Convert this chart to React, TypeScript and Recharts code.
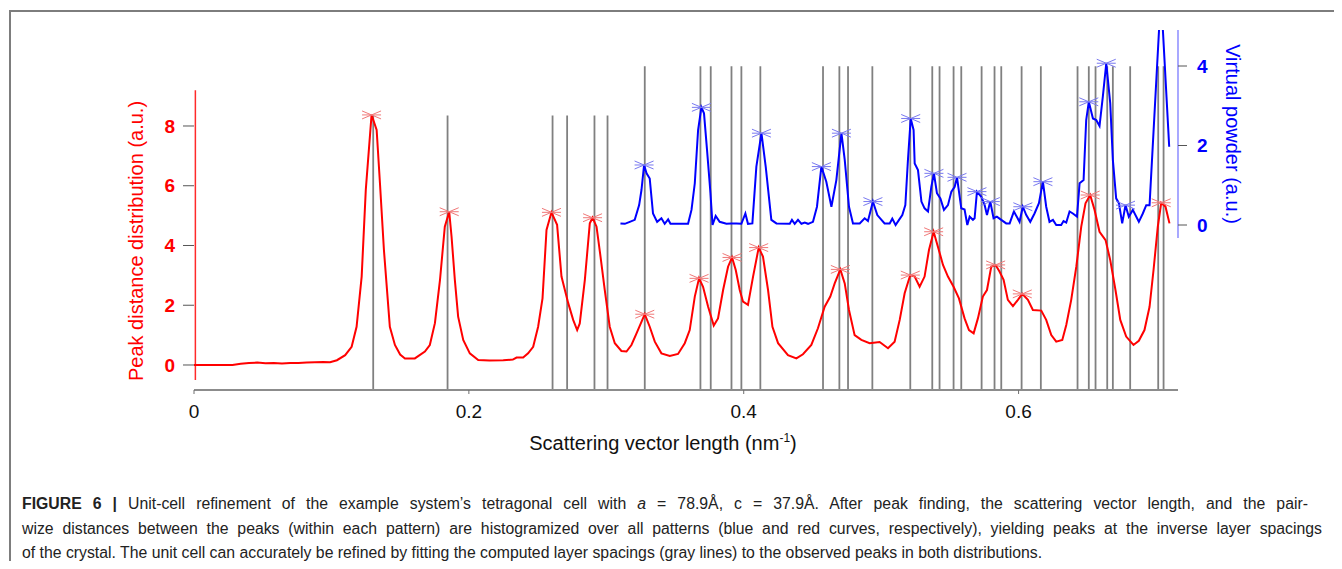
import React from 'react';
import { ComposedChart, Line, XAxis, YAxis, ReferenceLine } from 'recharts';

// axis ticks
const xTicks = [0, 0.2, 0.4, 0.6];
const leftTicks = [0, 2, 4, 6, 8];
const rightTicks = [0, 2, 4];

// red curve: pair-wise peak distance histogram [q, value]
const peakDistance: [number, number][] = [
  [0.0, 0.0], [0.028, 0.0], [0.034, 0.04], [0.04, 0.07], [0.046, 0.08], [0.052, 0.06],
  [0.058, 0.07], [0.064, 0.05], [0.07, 0.07], [0.076, 0.07], [0.082, 0.08], [0.088, 0.09],
  [0.094, 0.1], [0.099, 0.09], [0.104, 0.16], [0.11, 0.33], [0.1147, 0.61], [0.1183, 1.28],
  [0.122, 2.96], [0.125, 5.86], [0.1292, 8.37], [0.1329, 7.87], [0.1353, 6.09], [0.1382, 3.85],
  [0.1425, 1.28], [0.1462, 0.67], [0.15, 0.35], [0.1535, 0.22], [0.1607, 0.22], [0.168, 0.45],
  [0.1716, 0.67], [0.1753, 1.4], [0.179, 2.85], [0.1825, 4.63], [0.1857, 5.13], [0.1874, 4.3],
  [0.1898, 2.85], [0.1922, 1.62], [0.1959, 0.84], [0.2007, 0.39], [0.2068, 0.17], [0.215, 0.15],
  [0.225, 0.16], [0.232, 0.18], [0.2347, 0.25], [0.2395, 0.25], [0.2431, 0.39], [0.2468, 0.61],
  [0.2504, 1.28], [0.2536, 2.23], [0.2565, 4.52], [0.2601, 5.11], [0.2642, 4.69], [0.2674, 2.96],
  [0.2723, 2.07], [0.2759, 1.51], [0.2788, 1.17], [0.2807, 1.39], [0.2844, 2.85], [0.288, 4.74],
  [0.29, 4.93], [0.2929, 4.63], [0.2958, 3.63], [0.2989, 2.51], [0.3025, 1.28], [0.3062, 0.73],
  [0.311, 0.47], [0.3147, 0.45], [0.3183, 0.67], [0.322, 1.06], [0.328, 1.7], [0.3316, 1.28],
  [0.3353, 0.78], [0.3401, 0.39], [0.3462, 0.3], [0.3522, 0.37], [0.3571, 0.73], [0.3607, 1.17],
  [0.3644, 2.29], [0.3675, 2.9], [0.3704, 2.62], [0.3741, 1.95], [0.3782, 1.32], [0.3813, 1.56],
  [0.385, 2.51], [0.3886, 3.29], [0.3915, 3.6], [0.3942, 3.18], [0.3971, 2.51], [0.3995, 2.12],
  [0.4031, 2.01], [0.4068, 2.96], [0.4109, 3.93], [0.414, 3.63], [0.4177, 2.51], [0.4209, 1.28],
  [0.425, 0.73], [0.4322, 0.33], [0.4383, 0.22], [0.4431, 0.36], [0.4492, 0.67], [0.454, 1.23],
  [0.4589, 1.95], [0.463, 2.29], [0.4662, 2.73], [0.4703, 3.2], [0.4735, 2.73], [0.4766, 1.84],
  [0.4807, 1.0], [0.4856, 0.84], [0.4916, 0.73], [0.4989, 0.77], [0.505, 0.56], [0.5098, 0.78],
  [0.5135, 1.51], [0.5171, 2.4], [0.5212, 3.01], [0.5244, 2.96], [0.528, 2.62], [0.5316, 2.96],
  [0.5348, 3.85], [0.5382, 4.46], [0.5413, 3.96], [0.545, 3.35], [0.5486, 2.96], [0.5527, 2.62],
  [0.5566, 2.23], [0.5607, 1.56], [0.5639, 1.17], [0.5673, 1.06], [0.5704, 1.56], [0.574, 2.29],
  [0.577, 2.51], [0.5801, 3.29], [0.5833, 3.35], [0.5862, 3.12], [0.5891, 2.85], [0.5922, 2.18],
  [0.5959, 1.97], [0.5995, 2.18], [0.6027, 2.38], [0.6068, 2.18], [0.6104, 1.84], [0.6165, 1.82],
  [0.6201, 1.51], [0.6238, 1.0], [0.6274, 0.78], [0.6318, 0.84], [0.6347, 1.34], [0.6383, 2.18],
  [0.642, 3.29], [0.6456, 4.63], [0.6487, 5.41], [0.6521, 5.69], [0.6553, 5.19], [0.6589, 4.46],
  [0.6633, 4.18], [0.6667, 3.51], [0.6705, 2.51], [0.674, 1.51], [0.6783, 0.95], [0.6836, 0.67],
  [0.6875, 0.81], [0.6916, 1.17], [0.6953, 1.95], [0.6982, 3.18], [0.7013, 4.63], [0.7038, 5.43],
  [0.7069, 5.3], [0.7098, 4.74],
];

// blue curve: virtual powder pattern [q, value]
const virtualPowder: [number, number][] = [
  [0.3103, 0.04], [0.3135, 0.03], [0.3171, 0.08], [0.3207, 0.13], [0.3239, 0.5], [0.3256, 0.88],
  [0.3275, 1.51], [0.3293, 1.3], [0.3316, 1.17], [0.334, 0.29], [0.337, 0.08], [0.3401, 0.17],
  [0.3425, 0.03], [0.345, 0.14], [0.3467, 0.03], [0.3595, 0.03], [0.362, 0.38], [0.3644, 1.05],
  [0.3668, 2.39], [0.3692, 2.96], [0.3711, 2.81], [0.3733, 1.89], [0.3758, 0.8], [0.3773, 0.0],
  [0.3796, 0.23], [0.3825, 0.08], [0.3874, 0.03], [0.391, 0.04], [0.3947, 0.04], [0.3983, 0.03],
  [0.4012, 0.29], [0.4031, 0.03], [0.4063, 0.04], [0.4092, 1.47], [0.4129, 2.31], [0.416, 1.47],
  [0.4201, 0.13], [0.4238, 0.04], [0.4335, 0.03], [0.4351, 0.13], [0.4371, 0.03], [0.4395, 0.13],
  [0.442, 0.03], [0.4444, 0.06], [0.4468, 0.03], [0.4504, 0.08], [0.4533, 0.46], [0.4565, 1.47],
  [0.4601, 1.09], [0.4638, 0.46], [0.4674, 1.13], [0.4711, 2.31], [0.4735, 1.64], [0.4766, 0.46],
  [0.4795, 0.04], [0.4844, 0.04], [0.488, 0.17], [0.4904, 0.1], [0.494, 0.59], [0.4972, 0.25],
  [0.5025, 0.04], [0.5062, 0.04], [0.5081, 0.16], [0.5105, 0.0], [0.513, 0.13], [0.5154, 0.25],
  [0.5176, 0.5], [0.5195, 1.64], [0.5215, 2.68], [0.5236, 2.39], [0.5244, 1.55], [0.5268, 1.38],
  [0.5293, 0.59], [0.5316, 0.42], [0.5341, 0.34], [0.5365, 0.96], [0.5384, 1.3], [0.5406, 0.8],
  [0.5431, 0.67], [0.5457, 0.38], [0.5486, 0.5], [0.5511, 0.84], [0.5535, 0.96], [0.5552, 1.2],
  [0.5583, 0.42], [0.5607, 0.39], [0.5627, 0.0], [0.5644, 0.21], [0.5668, 0.13], [0.568, 0.17],
  [0.5697, 0.84], [0.5729, 0.71], [0.5753, 0.5], [0.577, 0.25], [0.5794, 0.59], [0.5818, 0.17],
  [0.5842, 0.21], [0.5874, 0.13], [0.591, 0.04], [0.5935, 0.04], [0.5966, 0.34], [0.6007, 0.08],
  [0.6031, 0.46], [0.6056, 0.25], [0.6085, 0.08], [0.6116, 0.29], [0.6148, 0.55], [0.6177, 1.09],
  [0.6201, 0.46], [0.6225, 0.08], [0.625, 0.13], [0.6274, 0.0], [0.631, 0.0], [0.6327, 0.1],
  [0.6347, 0.06], [0.6371, 0.34], [0.6395, 0.29], [0.6425, 0.21], [0.6444, 1.05], [0.6473, 1.13],
  [0.6492, 2.64], [0.6511, 3.1], [0.6541, 2.68], [0.6565, 2.64], [0.6589, 2.49], [0.6613, 3.23],
  [0.6638, 4.07], [0.6667, 3.06], [0.6686, 1.64], [0.671, 0.67], [0.673, 0.55], [0.6754, 0.04],
  [0.6778, 0.5], [0.6802, 0.21], [0.6831, 0.38], [0.6875, 0.08], [0.6904, 0.29], [0.6929, 0.5],
  [0.6953, 0.5], [0.7036, 5.8], [0.7096, 1.97],
];

// found peaks (star markers)
const peakDistanceMarks: [number, number][] = [
  [0.1292, 8.37], [0.1857, 5.13], [0.2601, 5.11], [0.29, 4.93], [0.328, 1.7], [0.3675, 2.9],
  [0.3915, 3.6], [0.4109, 3.93], [0.4703, 3.2], [0.5212, 3.01], [0.5382, 4.46], [0.5833, 3.35],
  [0.6027, 2.38], [0.6521, 5.69], [0.7038, 5.43],
];
const virtualPowderMarks: [number, number][] = [
  [0.3275, 1.51], [0.3692, 2.96], [0.4129, 2.31], [0.4565, 1.47], [0.4711, 2.31], [0.494, 0.59],
  [0.5215, 2.68], [0.5384, 1.3], [0.5552, 1.2], [0.5697, 0.84], [0.5794, 0.59], [0.6031, 0.46],
  [0.6177, 1.09], [0.6511, 3.1], [0.6638, 4.07], [0.6778, 0.5],
];

// computed layer spacings (gray lines), short ones and tall ones
const spacingsShort = [0.1304, 0.1845, 0.2609, 0.2715, 0.2914, 0.3009];
const spacingsTall = [
  0.328, 0.3685, 0.376, 0.3911, 0.3983, 0.4121, 0.4577, 0.4696, 0.4759, 0.4936, 0.5212, 0.5372,
  0.5425, 0.5527, 0.5583, 0.5731, 0.5825, 0.5874, 0.6022, 0.6162, 0.6429, 0.6511, 0.656, 0.6645,
  0.6686, 0.6812, 0.7016, 0.7055,
];
const shortTop = 8.35;
const tallTop = 10;

const X_DOMAIN: [number, number] = [0, 0.716];
const LEFT_DOMAIN: [number, number] = [-0.837, 11.213];
const RIGHT_DOMAIN: [number, number] = [-4.151, 4.906];

const rows = (pts: [number, number][]) => pts.map(([x, y]) => ({ x, y }));

const FONT = '"Liberation Sans", Arial, Helvetica, sans-serif';

function starDot(color: string, tag: string) {
  return (p: any) => {
    const { cx, cy, index } = p;
    if (cx == null || cy == null) return <g key={`${tag}${index}`} />;
    const w = 9.5;
    const h = 4;
    return (
      <g key={`${tag}${index}`} stroke={color} strokeWidth={1} fill="none">
        <line x1={cx - w} y1={cy} x2={cx + w} y2={cy} />
        <line x1={cx - w} y1={cy - h} x2={cx + w} y2={cy + h} />
        <line x1={cx - w} y1={cy + h} x2={cx + w} y2={cy - h} />
      </g>
    );
  };
}

export default function App() {
  return (
    <div style={{ position: 'relative', width: 1326, height: 553, fontFamily: FONT }}>
      <div
        style={{
          position: 'absolute', left: 1, top: 2, right: -7, bottom: -7,
          borderTop: '2px solid #7d7d7d', borderLeft: '2px solid #7d7d7d',
        }}
      />
      <ComposedChart
        width={1326}
        height={420}
        margin={{ top: 22, right: 96, bottom: 8, left: 126 }}
        style={{ fontFamily: FONT }}
      >
        <XAxis
          type="number"
          dataKey="x"
          domain={X_DOMAIN}
          allowDataOverflow
          ticks={xTicks}
          height={30}
          tickSize={4}
          tickMargin={11}
          axisLine={{ stroke: '#8c8c8c', strokeWidth: 2 }}
          tickLine={{ stroke: '#6e6e6e' }}
          tick={{ fill: '#111', fontSize: 19 }}
        />
        <YAxis
          yAxisId="left"
          type="number"
          domain={LEFT_DOMAIN}
          allowDataOverflow
          ticks={leftTicks}
          width={60}
          tickSize={11}
          tickMargin={8}
          axisLine={false}
          tickLine={{ stroke: '#555' }}
          tick={{ fill: '#ff0000', fontSize: 19, fontWeight: 'bold' }}
        />
        <YAxis
          yAxisId="right"
          orientation="right"
          type="number"
          domain={RIGHT_DOMAIN}
          allowDataOverflow
          ticks={rightTicks}
          width={60}
          tickSize={9}
          tickMargin={10}
          axisLine={false}
          tickLine={{ stroke: '#555' }}
          tick={{ fill: '#0000ff', fontSize: 19, fontWeight: 'bold' }}
        />

        {spacingsShort.map((x) => (
          <ReferenceLine
            key={`s${x}`}
            yAxisId="left"
            ifOverflow="visible"
            segment={[{ x, y: LEFT_DOMAIN[0] }, { x, y: shortTop }]}
            stroke="#808080"
            strokeWidth={1.8}
          />
        ))}
        {spacingsTall.map((x) => (
          <ReferenceLine
            key={`t${x}`}
            yAxisId="left"
            ifOverflow="visible"
            segment={[{ x, y: LEFT_DOMAIN[0] }, { x, y: tallTop }]}
            stroke="#808080"
            strokeWidth={1.8}
          />
        ))}

        {/* shortened axis spines */}
        <ReferenceLine
          yAxisId="left"
          ifOverflow="visible"
          segment={[{ x: 0.001, y: -0.5 }, { x: 0.001, y: 9.2 }]}
          stroke="#ff2a2a"
          strokeWidth={1.5}
        />
        <ReferenceLine
          yAxisId="right"
          ifOverflow="visible"
          segment={[{ x: 0.716, y: -0.33 }, { x: 0.716, y: 4.906 }]}
          stroke="#6f6fff"
          strokeWidth={1.2}
        />

        <Line
          yAxisId="left"
          data={rows(peakDistance)}
          dataKey="y"
          type="linear"
          stroke="#ff0000"
          strokeWidth={2}
          dot={false}
          activeDot={false}
          isAnimationActive={false}
        />
        <Line
          yAxisId="right"
          data={rows(virtualPowder)}
          dataKey="y"
          type="linear"
          stroke="#0000ff"
          strokeWidth={2}
          dot={false}
          activeDot={false}
          isAnimationActive={false}
        />
        <Line
          yAxisId="left"
          data={rows(peakDistanceMarks)}
          dataKey="y"
          stroke="none"
          dot={starDot('#f07878', 'r')}
          activeDot={false}
          isAnimationActive={false}
        />
        <Line
          yAxisId="right"
          data={rows(virtualPowderMarks)}
          dataKey="y"
          stroke="none"
          dot={starDot('#7878f0', 'b')}
          activeDot={false}
          isAnimationActive={false}
        />
      </ComposedChart>

      {/* axis titles */}
      <div
        style={{
          position: 'absolute', left: 128, top: 233, transform: 'translate(-50%, -50%) rotate(-90deg)',
          whiteSpace: 'nowrap', color: '#ff0000', fontSize: 20,
        }}
      >
        Peak distance distribution (a.u.)
      </div>
      <div
        style={{
          position: 'absolute', left: 1224, top: 126, transform: 'translate(-50%, -50%) rotate(90deg)',
          whiteSpace: 'nowrap', color: '#0000ff', fontSize: 20,
        }}
      >
        Virtual powder (a.u.)
      </div>
      <div
        style={{
          position: 'absolute', left: 655, top: 435, transform: 'translate(-50%, -50%)',
          whiteSpace: 'nowrap', color: '#111', fontSize: 20,
        }}
      >
        Scattering vector length (nm<sup style={{ fontSize: 12, lineHeight: 0 }}>-1</sup>)
      </div>

      {/* caption */}
      <div
        style={{
          position: 'absolute', left: 14, top: 484, color: '#222', fontSize: 15.8,
          lineHeight: '24.5px',
        }}
      >
        <div style={{ width: 1286, textAlign: 'justify', textAlignLast: 'justify' }}>
          <b>FIGURE 6 |</b> Unit-cell refinement of the example system’s tetragonal cell with <i>a</i> = 78.9Å, c = 37.9Å. After peak finding, the scattering vector length, and the pair-
        </div>
        <div style={{ width: 1300, textAlign: 'justify', textAlignLast: 'justify' }}>
          wize distances between the peaks (within each pattern) are histogramized over all patterns (blue and red curves, respectively), yielding peaks at the inverse layer spacings
        </div>
        <div style={{ whiteSpace: 'nowrap' }}>
          of the crystal. The unit cell can accurately be refined by fitting the computed layer spacings (gray lines) to the observed peaks in both distributions.
        </div>
      </div>
    </div>
  );
}
